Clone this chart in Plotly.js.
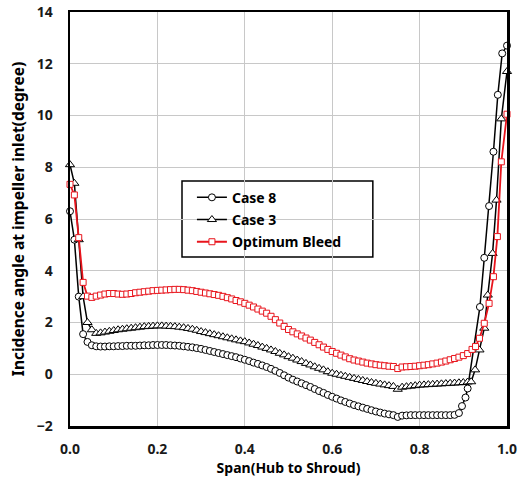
<!DOCTYPE html>
<html>
<head>
<meta charset="utf-8">
<script src="https://cdn.plot.ly/plotly-3.0.1.min.js"></script>
<style>html,body{margin:0;padding:0;background:#fff;}#chart{width:518px;height:477px;}</style>
</head>
<body>
<div id="chart"></div>
<script>
// ---- data ----
const seriesNames = ["Case 8", "Case 3", "Optimum Bleed"];

const case8X = [
  0.00,0.01,0.02,0.03,0.04,0.05,0.06,0.07,0.08,0.09,
  0.10,0.11,0.12,0.13,0.14,0.15,0.16,0.17,0.18,0.19,
  0.20,0.21,0.22,0.23,0.24,0.25,0.26,0.27,0.28,0.29,
  0.30,0.31,0.32,0.33,0.34,0.35,0.36,0.37,0.38,0.39,
  0.40,0.41,0.42,0.43,0.44,0.45,0.46,0.47,0.48,0.49,
  0.50,0.51,0.52,0.53,0.54,0.55,0.56,0.57,0.58,0.59,
  0.60,0.61,0.62,0.63,0.64,0.65,0.66,0.67,0.68,0.69,
  0.70,0.71,0.72,0.73,0.74,0.75,0.76,0.77,0.78,0.79,
  0.80,0.81,0.82,0.83,0.84,0.85,0.86,0.87,0.88,0.89,
  0.897,0.905,0.91,0.938,0.948,0.959,0.969,0.979,0.989,1.00
];
const case8Y = [
  6.3,5.2,3.0,1.55,1.25,1.12,1.08,1.07,1.07,1.08,
  1.08,1.09,1.09,1.10,1.10,1.10,1.11,1.12,1.12,1.13,
  1.13,1.13,1.13,1.12,1.11,1.10,1.08,1.06,1.04,1.01,
  0.98,0.94,0.90,0.86,0.82,0.78,0.74,0.70,0.66,0.61,
  0.56,0.51,0.45,0.40,0.34,0.28,0.21,0.13,0.05,-0.04,
  -0.13,-0.21,-0.28,-0.35,-0.42,-0.49,-0.57,-0.65,-0.72,-0.80,
  -0.87,-0.94,-1.01,-1.07,-1.13,-1.19,-1.24,-1.29,-1.34,-1.39,
  -1.44,-1.48,-1.52,-1.55,-1.58,-1.65,-1.60,-1.59,-1.58,-1.58,
  -1.58,-1.58,-1.58,-1.58,-1.58,-1.58,-1.58,-1.58,-1.57,-1.50,
  -1.23,-0.90,-0.55,2.6,4.5,6.5,8.6,10.8,12.4,12.7
];

const case3X = [
  0.00,0.01,0.02,0.03,0.04,0.05,0.06,0.07,0.08,0.09,
  0.10,0.11,0.12,0.13,0.14,0.15,0.16,0.17,0.18,0.19,
  0.20,0.21,0.22,0.23,0.24,0.25,0.26,0.27,0.28,0.29,
  0.30,0.31,0.32,0.33,0.34,0.35,0.36,0.37,0.38,0.39,
  0.40,0.41,0.42,0.43,0.44,0.45,0.46,0.47,0.48,0.49,
  0.50,0.51,0.52,0.53,0.54,0.55,0.56,0.57,0.58,0.59,
  0.60,0.61,0.62,0.63,0.64,0.65,0.66,0.67,0.68,0.69,
  0.70,0.71,0.72,0.73,0.74,0.75,0.76,0.77,0.78,0.79,
  0.80,0.81,0.82,0.83,0.84,0.85,0.86,0.87,0.88,0.89,
  0.90,0.91,0.918,0.927,0.937,0.948,0.956,0.967,0.976,0.987,1.00
];
const case3Y = [
  8.1,7.38,5.2,3.0,2.0,1.72,1.58,1.60,1.63,1.66,
  1.69,1.72,1.74,1.76,1.78,1.80,1.82,1.84,1.85,1.86,
  1.87,1.87,1.86,1.85,1.84,1.82,1.80,1.77,1.74,1.70,
  1.65,1.61,1.57,1.53,1.49,1.45,1.41,1.37,1.33,1.29,
  1.26,1.21,1.16,1.11,1.05,1.00,0.94,0.88,0.81,0.75,
  0.68,0.62,0.55,0.49,0.42,0.36,0.29,0.23,0.17,0.10,
  0.04,0.00,-0.04,-0.08,-0.12,-0.16,-0.20,-0.24,-0.28,-0.32,
  -0.35,-0.38,-0.41,-0.44,-0.47,-0.58,-0.50,-0.48,-0.46,-0.44,
  -0.42,-0.41,-0.40,-0.39,-0.38,-0.37,-0.36,-0.35,-0.34,-0.33,
  -0.32,-0.30,-0.29,0.17,0.94,1.78,3.06,4.67,6.73,9.87,11.7
];

const bleedX = [
  0.00,0.01,0.02,0.03,0.04,0.05,0.06,0.07,0.08,0.09,
  0.10,0.11,0.12,0.13,0.14,0.15,0.16,0.17,0.18,0.19,
  0.20,0.21,0.22,0.23,0.24,0.25,0.26,0.27,0.28,0.29,
  0.30,0.31,0.32,0.33,0.34,0.35,0.36,0.37,0.38,0.39,
  0.40,0.41,0.42,0.43,0.44,0.45,0.46,0.47,0.48,0.49,
  0.50,0.51,0.52,0.53,0.54,0.55,0.56,0.57,0.58,0.59,
  0.60,0.61,0.62,0.63,0.64,0.65,0.66,0.67,0.68,0.69,
  0.70,0.71,0.72,0.73,0.74,0.75,0.76,0.77,0.78,0.79,
  0.80,0.81,0.82,0.83,0.84,0.85,0.86,0.87,0.88,0.89,
  0.90,0.91,0.92,0.928,0.937,0.948,0.959,0.969,0.978,0.987,1.00
];
const bleedY = [
  7.34,6.93,5.28,3.55,3.02,2.97,3.02,3.06,3.10,3.12,
  3.12,3.10,3.09,3.10,3.12,3.15,3.17,3.19,3.21,3.23,
  3.24,3.25,3.26,3.27,3.28,3.28,3.27,3.25,3.23,3.20,
  3.17,3.14,3.11,3.08,3.05,3.01,2.96,2.91,2.85,2.80,
  2.74,2.67,2.60,2.52,2.44,2.36,2.24,2.11,1.98,1.85,
  1.73,1.64,1.56,1.48,1.40,1.32,1.23,1.14,1.05,0.96,
  0.88,0.81,0.74,0.67,0.60,0.55,0.51,0.47,0.43,0.40,
  0.37,0.35,0.33,0.31,0.30,0.22,0.28,0.29,0.30,0.31,
  0.33,0.35,0.37,0.40,0.43,0.47,0.51,0.56,0.61,0.66,
  0.72,0.80,0.96,1.07,1.39,1.97,2.74,3.77,5.32,8.21,10.05
];

const xTickVals = [0, 0.2, 0.4, 0.6, 0.8, 1.0];
const xTickText = ["0.0", "0.2", "0.4", "0.6", "0.8", "1.0"];
const yTickVals = [-2, 0, 2, 4, 6, 8, 10, 12, 14];

// ---- chart ----
const FONT = "'Noto Sans', 'DejaVu Sans', sans-serif";

const traces = [
  {
    x: case8X, y: case8Y, name: seriesNames[0], type: "scatter", mode: "lines+markers",
    legendgroup: "a", cliponaxis: false,
    line: {color: "#000000", width: 1.5},
    marker: {symbol: "circle", size: 7, color: "#ffffff", line: {color: "#000000", width: 1}}
  },
  {
    x: case3X, y: case3Y, name: seriesNames[1], type: "scatter", mode: "lines+markers",
    legendgroup: "b", cliponaxis: false,
    line: {color: "#000000", width: 1.5},
    marker: {symbol: "triangle-up", size: 8, color: "#ffffff", line: {color: "#000000", width: 1}}
  },
  {
    x: bleedX, y: bleedY, name: seriesNames[2], type: "scatter", mode: "lines+markers",
    legendgroup: "c", cliponaxis: false,
    line: {color: "#e8141c", width: 1.8},
    marker: {symbol: "square", size: 6, color: "#ffffff", line: {color: "#e8141c", width: 1}}
  }
];

const layout = {
  width: 518, height: 477,
  margin: {l: 70, r: 11, t: 12, b: 51},
  paper_bgcolor: "#ffffff", plot_bgcolor: "#ffffff",
  font: {family: FONT, color: "#000000"},
  showlegend: true,
  legend: {
    x: 0.279, y: 0.59, xanchor: "left", yanchor: "top",
    bgcolor: "rgba(0,0,0,0)", borderwidth: 0,
    tracegroupgap: 1, itemwidth: 30,
    font: {family: FONT, size: 14, weight: "bold", color: "#000000"}
  },
  shapes: [{
    type: "rect", xref: "paper", yref: "paper",
    x0: 0.2563, x1: 0.693, y0: 0.408, y1: 0.592,
    line: {color: "#000000", width: 1.5}, fillcolor: "rgba(255,255,255,1)", layer: "below"
  }],
  xaxis: {
    range: [0, 1], tickmode: "array", tickvals: xTickVals, ticktext: xTickText,
    showgrid: true, gridcolor: "#c8c8c8", gridwidth: 1,
    zeroline: false, showline: true, mirror: true, linecolor: "#000000", linewidth: 2.5,
    ticks: "", ticklabelstandoff: 9,
    tickfont: {family: FONT, size: 14, weight: "bold", color: "#1a1a1a"},
    title: {text: "Span(Hub to Shroud)", standoff: 3,
            font: {family: FONT, size: 14, weight: "bold", color: "#000000"}}
  },
  yaxis: {
    range: [-2, 14], tickmode: "array", tickvals: yTickVals,
    showgrid: true, gridcolor: "#c8c8c8", gridwidth: 1,
    zeroline: false, showline: true, mirror: true, linecolor: "#000000", linewidth: 2.5,
    ticks: "", ticklabelstandoff: 12,
    tickfont: {family: FONT, size: 14, weight: "bold", color: "#1a1a1a"},
    title: {text: "Incidence angle at impeller inlet(degree)", standoff: 8,
            font: {family: FONT, size: 15.5, weight: "bold", color: "#000000"}}
  }
};

Plotly.newPlot("chart", traces, layout, {displayModeBar: false, staticPlot: true});
</script>
</body>
</html>
